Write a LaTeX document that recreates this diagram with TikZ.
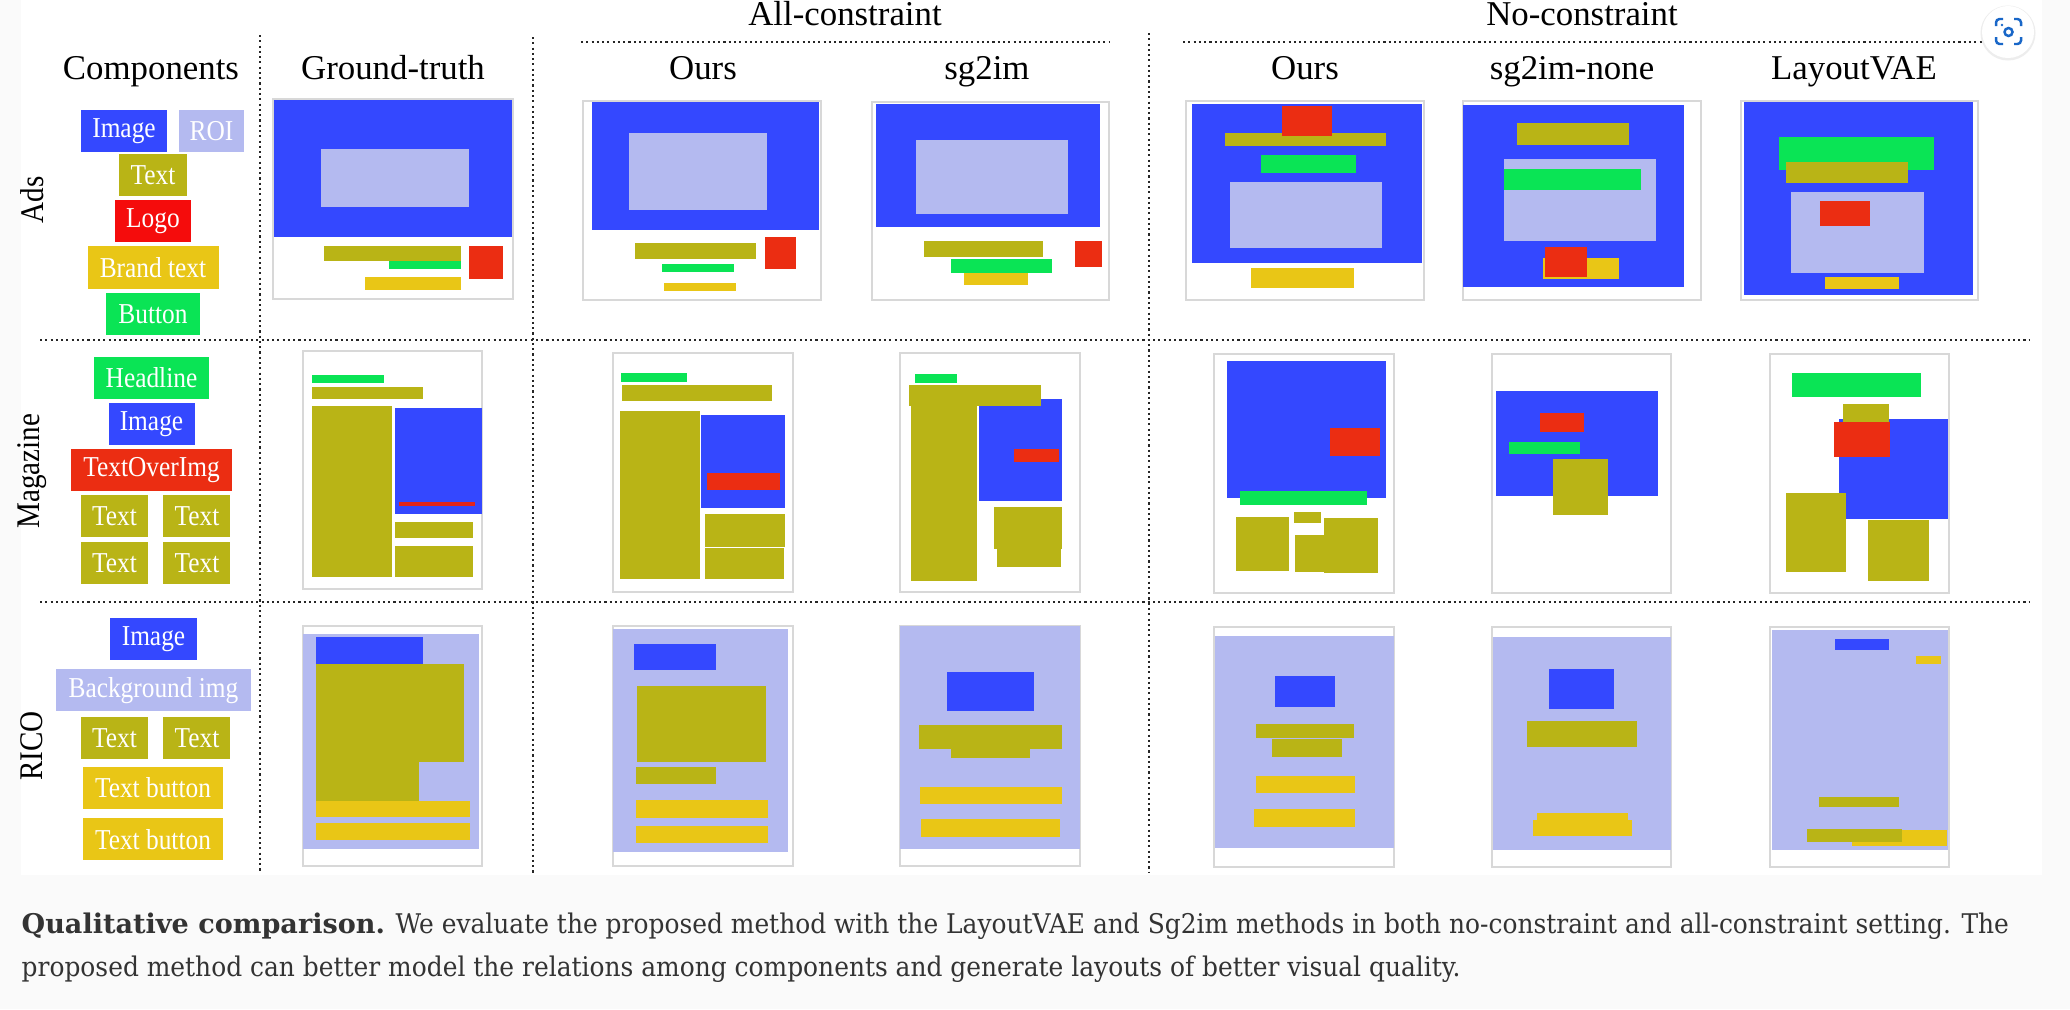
\documentclass[tikz,border=0pt]{standalone}
\usepackage{fontspec}
\setmainfont{Liberation Serif}
\newfontfamily\boxfont[FakeStretch=0.88]{Liberation Serif}
\newfontfamily\capfont[FakeStretch=0.92]{DejaVu Serif}
\newfontfamily\capbold{DejaVu Serif}
\usetikzlibrary{positioning}
\definecolor{imgblue}{RGB}{52,72,255}
\definecolor{roiblue}{RGB}{180,186,240}
\definecolor{txtolive}{RGB}{185,180,22}
\definecolor{logored}{RGB}{235,45,18}
\definecolor{logobox}{RGB}{245,12,12}
\definecolor{brandyel}{RGB}{233,198,22}
\definecolor{btngreen}{RGB}{10,228,85}
\definecolor{panelgray}{RGB}{216,216,216}
\definecolor{capgray}{RGB}{250,250,250}
\definecolor{captext}{RGB}{51,51,51}
\definecolor{iconblue}{RGB}{25,103,200}

\begin{document}
\begin{tikzpicture}[x=0.01cm,y=-0.01cm,
	comp/.style={rectangle,minimum height=0.42cm,inner sep=0pt,text=white,font=\boxfont\fontsize{8.2}{9}\selectfont},
	bw/.style={minimum width=#1*0.01cm},
	head/.style={anchor=base,inner sep=0pt,font=\fontsize{9.9}{11}\selectfont},
	rowlab/.style={rotate=90,inner sep=0pt,font=\boxfont\fontsize{9.4}{10}\selectfont},
	sep/.style={line width=0.6pt,dash pattern=on 0.6pt off 0.9pt,black!85},
	panel/.style={draw=panelgray,fill=white,line width=0.4pt},
	captxt/.style={anchor=base west,inner sep=0pt,text=captext,font=\capfont\fontsize{7.7}{9}\selectfont}]
	\useasboundingbox (0,0) rectangle (2070,1009);
	\fill[capgray] (0,0) rectangle (2070,1009);
	\fill[white] (21,0) rectangle (2042,875);

	% headers
	\node[head] (hcomp) at (151,79) {Components};
	\node[head] (hgt) at (393,79) {Ground-truth};
	\node[head] (hall) at (845,25) {All-constraint};
	\node[head] (hours) at (703,79) {Ours};
	\node[head] (hsg) at (987,79) {sg2im};
	\node[head] (hno) at (1582,25) {No-constraint};
	\node[head] (hoursn) at (1305,79) {Ours};
	\node[head] (hsgn) at (1572,79) {sg2im-none};
	\node[head] (hvae) at (1854,79) {LayoutVAE};
	\node[rowlab] (lads) at (32,200) {Ads};
	\node[rowlab] (lmag) at (32,471) {Magazine};
	\node[rowlab] (lrico) at (32,746) {RICO};

	\draw[sep] (581,42) -- (1109,42);
	\draw[sep] (1183,42) -- (1992,42);
	\draw[sep] (260,35) -- (260,873);
	\draw[sep] (533,37) -- (533,873);
	\draw[sep] (1149,33) -- (1149,873);
	\draw[sep] (40,340) -- (2030,340);
	\draw[sep] (40,602) -- (2030,602);

	% components
	\node[comp,bw=86,fill=imgblue] (adsimg) at (124,131) {Image};
	\node[comp,bw=65,fill=roiblue] (adsroi) at (211.5,131) {ROI};
	\node[comp,bw=68,fill=txtolive] (adstext) at (153,175) {Text};
	\node[comp,bw=76,fill=logobox] (adslogo) [below=0.8pt of adstext] {Logo};
	\node[comp,bw=131,fill=brandyel] (adsbrand) [below=0.8pt of adslogo] {Brand text};
	\node[comp,bw=94,fill=btngreen] (adsbtn) [below=0.8pt of adsbrand] {Button};

	\node[comp,bw=115,fill=btngreen] (maghead) at (151.5,378) {Headline};
	\node[comp,bw=86,fill=imgblue] (magimg) [below=0.7pt of maghead] {Image};
	\node[comp,bw=161,fill=logored] (magtoi) [below=0.7pt of magimg] {TextOverImg};
	\node[comp,bw=67,fill=txtolive] (magtexta) at (114.5,516) {Text};
	\node[comp,bw=67,fill=txtolive] (magtextb) [right=4pt of magtexta] {Text};
	\node[comp,bw=67,fill=txtolive] (magtextc) [below=1.1pt of magtexta] {Text};
	\node[comp,bw=67,fill=txtolive] (magtextd) [below=1.1pt of magtextb] {Text};

	\node[comp,bw=87,fill=imgblue] (ricoimg) at (153.5,639) {Image};
	\node[comp,bw=195,fill=roiblue] (ricobg) [below=2.2pt of ricoimg] {Background img};
	\node[comp,bw=67,fill=txtolive] (ricotexta) at (114.5,738) {Text};
	\node[comp,bw=67,fill=txtolive] (ricotextb) [right=4pt of ricotexta] {Text};
	\node[comp,bw=140,fill=brandyel] (ricobtna) at (153,788) {Text button};
	\node[comp,bw=140,fill=brandyel] (ricobtnb) [below=2.2pt of ricobtna] {Text button};

	% Ads layouts
	\draw[panel] (273,99) rectangle (513,299);
	\fill[imgblue] (274,100) rectangle (512,237);
	\fill[roiblue] (321,149) rectangle (469,207);
	\fill[txtolive] (324,246) rectangle (461,261);
	\fill[btngreen] (389,261) rectangle (461,269);
	\fill[brandyel] (365,277) rectangle (461,290);
	\fill[logored] (469,246) rectangle (503,279);

	\draw[panel] (583,101) rectangle (821,300);
	\fill[imgblue] (592,102) rectangle (819,230);
	\fill[roiblue] (629,133) rectangle (767,210);
	\fill[txtolive] (635,243) rectangle (756,259);
	\fill[logored] (765,237) rectangle (796,269);
	\fill[btngreen] (662,264) rectangle (734,272);
	\fill[brandyel] (664,283) rectangle (736,291);

	\draw[panel] (872,102) rectangle (1109,300);
	\fill[imgblue] (876,104) rectangle (1100,227);
	\fill[roiblue] (916,140) rectangle (1068,214);
	\fill[txtolive] (924,241) rectangle (1043,257);
	\fill[btngreen] (951,259) rectangle (1052,273);
	\fill[brandyel] (964,273) rectangle (1028,285);
	\fill[logored] (1075,241) rectangle (1102,267);

	\draw[panel] (1186,101) rectangle (1424,300);
	\fill[imgblue] (1192,104) rectangle (1422,263);
	\fill[txtolive] (1225,133) rectangle (1386,146);
	\fill[logored] (1282,106) rectangle (1332,136);
	\fill[btngreen] (1261,155) rectangle (1356,173);
	\fill[roiblue] (1230,182) rectangle (1382,248);
	\fill[brandyel] (1251,268) rectangle (1354,288);

	\draw[panel] (1463,101) rectangle (1701,300);
	\fill[imgblue] (1463,105) rectangle (1684,287);
	\fill[txtolive] (1517,123) rectangle (1629,145);
	\fill[roiblue] (1504,159) rectangle (1656,241);
	\fill[btngreen] (1504,169) rectangle (1641,190);
	\fill[brandyel] (1543,258) rectangle (1619,279);
	\fill[logored] (1545,247) rectangle (1587,277);

	\draw[panel] (1741,101) rectangle (1978,300);
	\fill[imgblue] (1744,102) rectangle (1973,295);
	\fill[btngreen] (1779,137) rectangle (1934,170);
	\fill[txtolive] (1786,162) rectangle (1908,183);
	\fill[roiblue] (1791,192) rectangle (1924,273);
	\fill[logored] (1820,201) rectangle (1870,226);
	\fill[brandyel] (1825,277) rectangle (1899,289);

	% Magazine layouts
	\draw[panel] (303,351) rectangle (482,589);
	\fill[btngreen] (312,375) rectangle (384,383);
	\fill[txtolive] (312,387) rectangle (423,399);
	\fill[txtolive] (312,406) rectangle (392,577);
	\fill[imgblue] (395,408) rectangle (482,514);
	\fill[logored!80!purple] (399,502) rectangle (475,506);
	\fill[txtolive] (395,522) rectangle (473,538);
	\fill[txtolive] (395,546) rectangle (473,577);

	\draw[panel] (613,353) rectangle (793,592);
	\fill[btngreen] (621,373) rectangle (687,382);
	\fill[txtolive] (622,385) rectangle (772,401);
	\fill[txtolive] (620,411) rectangle (700,579);
	\fill[imgblue] (701,415) rectangle (785,508);
	\fill[logored] (707,473) rectangle (780,490);
	\fill[txtolive] (705,514) rectangle (785,547);
	\fill[txtolive] (705,548) rectangle (784,579);

	\draw[panel] (900,353) rectangle (1080,592);
	\fill[imgblue] (979,399) rectangle (1062,501);
	\fill[btngreen] (915,374) rectangle (957,383);
	\fill[txtolive] (911,385) rectangle (977,581);
	\fill[txtolive] (909,385) rectangle (1041,406);
	\fill[logored] (1014,449) rectangle (1059,462);
	\fill[txtolive] (994,507) rectangle (1062,549);
	\fill[txtolive] (997,547) rectangle (1061,567);

	\draw[panel] (1214,354) rectangle (1394,593);
	\fill[imgblue] (1227,361) rectangle (1386,498);
	\fill[logored] (1330,428) rectangle (1380,456);
	\fill[btngreen] (1240,491) rectangle (1367,505);
	\fill[txtolive] (1236,517) rectangle (1289,571);
	\fill[txtolive] (1294,512) rectangle (1321,523);
	\fill[txtolive] (1295,535) rectangle (1324,572);
	\fill[txtolive] (1324,518) rectangle (1378,573);

	\draw[panel] (1492,354) rectangle (1671,593);
	\fill[imgblue] (1496,391) rectangle (1658,496);
	\fill[logored] (1540,413) rectangle (1584,432);
	\fill[btngreen] (1509,442) rectangle (1580,454);
	\fill[txtolive] (1553,459) rectangle (1608,515);

	\draw[panel] (1770,354) rectangle (1949,593);
	\fill[btngreen] (1792,373) rectangle (1921,397);
	\fill[imgblue] (1839,419) rectangle (1948,519);
	\fill[txtolive] (1843,404) rectangle (1889,427);
	\fill[logored] (1834,422) rectangle (1890,457);
	\fill[txtolive] (1786,493) rectangle (1846,572);
	\fill[txtolive] (1868,520) rectangle (1929,581);

	% RICO layouts
	\draw[panel] (303,626) rectangle (482,866);
	\fill[roiblue] (303,634) rectangle (479,849);
	\fill[imgblue] (316,637) rectangle (423,664);
	\fill[txtolive] (316,664) rectangle (464,762);
	\fill[txtolive] (316,762) rectangle (419,801);
	\fill[brandyel] (316,801) rectangle (470,817);
	\fill[brandyel] (316,823) rectangle (470,840);

	\draw[panel] (613,626) rectangle (793,866);
	\fill[roiblue] (613,629) rectangle (788,852);
	\fill[imgblue] (634,644) rectangle (716,670);
	\fill[txtolive] (637,686) rectangle (766,762);
	\fill[txtolive] (636,767) rectangle (716,784);
	\fill[brandyel] (636,800) rectangle (768,818);
	\fill[brandyel] (636,826) rectangle (768,843);

	\draw[panel] (900,626) rectangle (1080,866);
	\fill[roiblue] (900,626) rectangle (1080,849);
	\fill[imgblue] (947,672) rectangle (1034,711);
	\fill[txtolive] (919,725) rectangle (1062,749);
	\fill[txtolive] (951,749) rectangle (1030,758);
	\fill[brandyel] (920,787) rectangle (1062,804);
	\fill[brandyel] (921,819) rectangle (1060,837);

	\draw[panel] (1214,627) rectangle (1394,867);
	\fill[roiblue] (1215,636) rectangle (1394,848);
	\fill[imgblue] (1275,676) rectangle (1335,707);
	\fill[txtolive] (1256,724) rectangle (1354,738);
	\fill[txtolive] (1272,739) rectangle (1342,757);
	\fill[brandyel] (1256,776) rectangle (1355,793);
	\fill[brandyel] (1254,809) rectangle (1355,827);

	\draw[panel] (1492,627) rectangle (1671,867);
	\fill[roiblue] (1493,637) rectangle (1671,850);
	\fill[imgblue] (1549,669) rectangle (1614,709);
	\fill[txtolive] (1527,721) rectangle (1637,747);
	\fill[brandyel] (1537,813) rectangle (1628,822);
	\fill[brandyel] (1533,820) rectangle (1632,836);

	\draw[panel] (1770,627) rectangle (1949,867);
	\fill[roiblue] (1772,630) rectangle (1948,850);
	\fill[imgblue] (1835,639) rectangle (1889,650);
	\fill[brandyel] (1916,656) rectangle (1941,664);
	\fill[txtolive] (1819,797) rectangle (1899,807);
	\fill[brandyel] (1852,830) rectangle (1947,846);
	\fill[txtolive] (1807,829) rectangle (1902,842);

	% lens button
	\fill[black!7] (2008,33) circle [radius=0.275cm];
	\fill[white] (2008,32) circle [radius=0.26cm];
	\draw[iconblue,line width=0.7pt,rounded corners=1pt]
	(1996,26) |- (2003,19)
	(2014,19) -| (2021,26)
	(2021,37) |- (2014,44)
	(2003,44) -| (1996,37);
	\draw[iconblue,line width=0.7pt] (2008.5,32) circle [radius=0.04cm];
	\fill[iconblue] (2002,25) circle [radius=0.013cm];

	% caption
	\node[captxt] (cap1) at (21,933) {{\capbold\bfseries Qualitative comparison.} We evaluate the proposed method with the LayoutVAE and Sg2im methods in both no-constraint and all-constraint setting. The};
	\node[captxt] (cap2) at (21,976) {proposed method can better model the relations among components and generate layouts of better visual quality.};
\end{tikzpicture}
\end{document}
